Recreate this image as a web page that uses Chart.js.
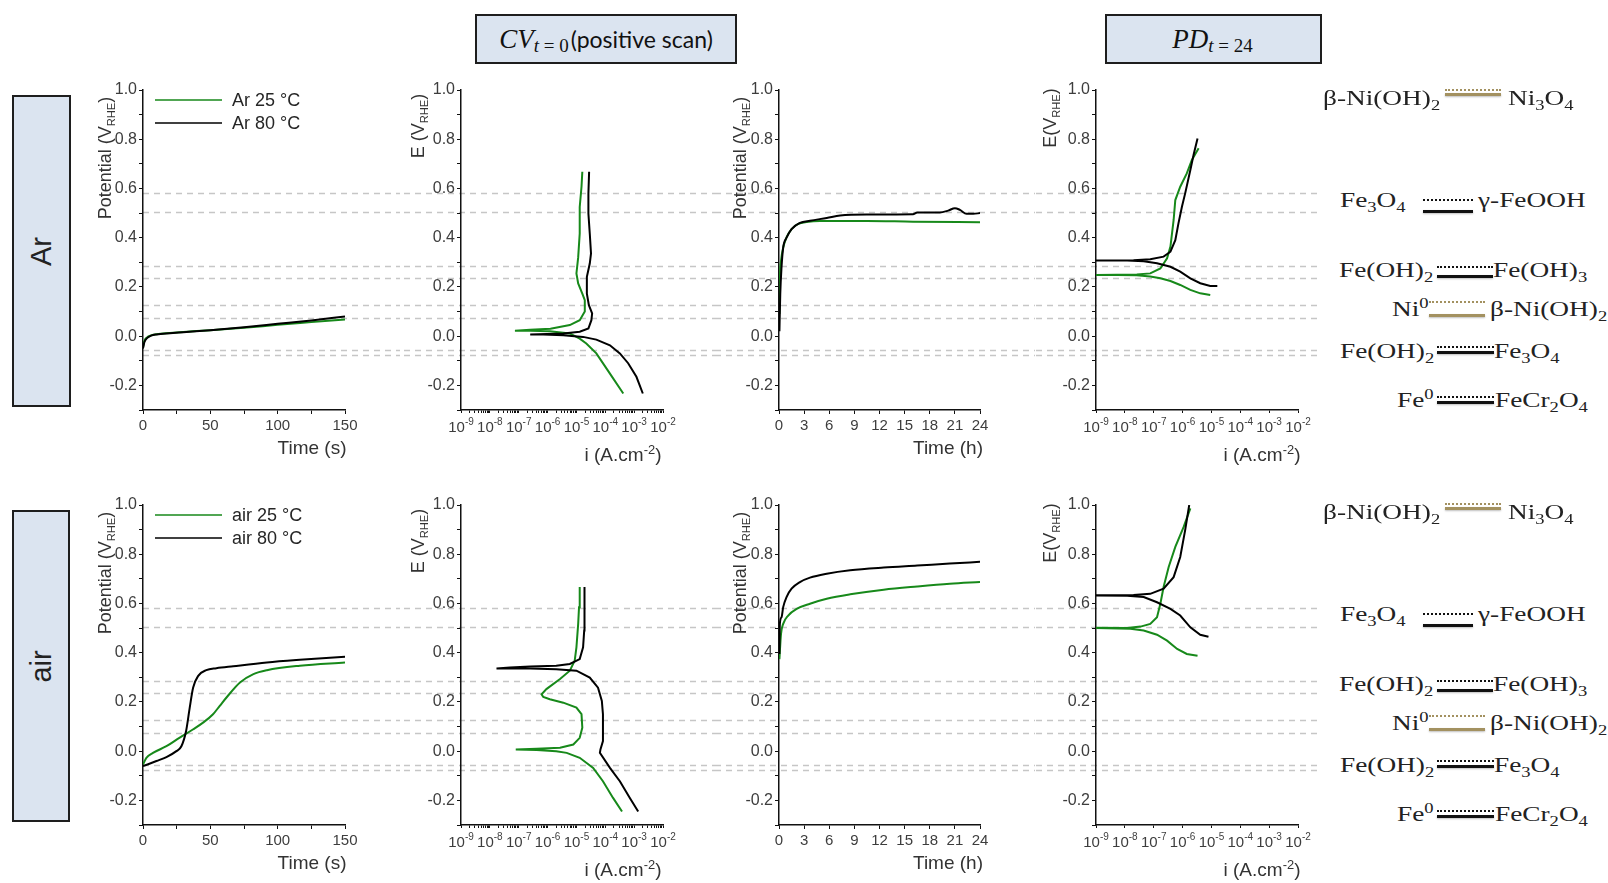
<!DOCTYPE html>
<html>
<head>
<meta charset="utf-8">
<script src="https://cdn.jsdelivr.net/npm/chart.js@4.4.1/dist/chart.umd.min.js"></script>
<style>
body{margin:0;background:#fff;}
#fig{position:relative;width:1608px;height:883px;overflow:hidden;font-family:"Liberation Sans",Arial,sans-serif;}
canvas{position:absolute;}
.box{position:absolute;background:#dbe4f0;border:2px solid #1e1e1e;box-sizing:border-box;}
.side{display:flex;align-items:center;justify-content:center;}
.side span{display:block;transform:rotate(-90deg);font-size:29px;color:#222;}
.hdr{display:flex;align-items:center;justify-content:center;color:#111;}
.hdr .m{font-family:"Liberation Serif",serif;font-style:italic;font-size:27px;}
.hdr .s{font-family:"Liberation Serif",serif;font-size:19px;position:relative;top:7px;margin-right:2px;}
.hdr .t{font-family:Lato,"Open Sans",sans-serif;font-size:23px;}
.ytitle{position:absolute;transform:translate(-50%,-50%) rotate(-90deg);white-space:nowrap;font-size:18px;color:#333;}
.xtitle{position:absolute;transform:translate(-50%,-50%);white-space:nowrap;font-size:19px;color:#333;}
.ytitle sub{font-size:0.62em;}
.rx{position:absolute;font-family:"Liberation Serif","Times New Roman",serif;font-size:21px;color:#222;line-height:21px;white-space:nowrap;transform:scaleX(1.3);transform-origin:0 0;}
sub,sup{font-size:0.68em;line-height:0;}
.dot{position:absolute;border-top:2px dotted;height:0;}
.sol{position:absolute;height:3px;box-shadow:0 1px 2px rgba(0,0,0,0.25);}
</style>
</head>
<body>
<div id="fig">
  <div class="box side" style="left:12px;top:95px;width:59px;height:312px"><span>Ar</span></div>
  <div class="box side" style="left:12px;top:510px;width:58px;height:312px"><span>air</span></div>
  <div class="box hdr" style="left:475px;top:14px;width:262px;height:50px">
    <span class="m">CV</span><span class="s"><i>t</i> = 0</span><span class="t">(positive scan)</span>
  </div>
  <div class="box hdr" style="left:1105px;top:14px;width:217px;height:50px">
    <span class="m">PD</span><span class="s"><i>t</i> = 24</span>
  </div>
</div>
<script>
// redox potentials of the couples (V vs RHE), drawn as grey dashed guides
const guideLevels = [0.58, 0.505, 0.287, 0.235, 0.128, 0.074, -0.057, -0.077];
// tick labels
const yTickLabels = [-0.2, 0.0, 0.2, 0.4, 0.6, 0.8, 1.0];
const decadeExp = [-9, -8, -7, -6, -5, -4, -3, -2];

// OCP during first 150 s  [t (s), E (V)]
const ocpAr25 = [[0,-0.045],[1,-0.02],[3,-0.005],[6,0.003],[10,0.008],[20,0.013],[30,0.017],[50,0.024],[75,0.034],[100,0.046],[125,0.057],[150,0.068]];
const ocpAr80 = [[0,-0.05],[1,-0.025],[3,-0.008],[6,0.002],[10,0.007],[20,0.012],[30,0.016],[50,0.024],[75,0.036],[100,0.05],[125,0.064],[150,0.08]];
const ocpAir25 = [[0,-0.054],[2.5,-0.027],[7.4,-0.007],[17.4,0.02],[27,0.054],[37,0.088],[44.6,0.116],[52,0.15],[57,0.184],[62,0.218],[72,0.279],[82,0.313],[92,0.329],[116.5,0.347],[150,0.36]];
const ocpAir80 = [[0,-0.061],[10,-0.04],[17.4,-0.024],[24.8,0.0],[28.5,0.02],[32,0.082],[34.7,0.177],[37.2,0.258],[41,0.306],[47,0.329],[54.5,0.337],[67,0.345],[92,0.36],[116.5,0.371],[150,0.384]];

// CV positive scan  [i (A/cm2), E (V)]
const cvAr25 = [[4.2e-4,-0.233],[1.45e-4,-0.152],[4.9e-5,-0.07],[2.2e-5,-0.03],[1.3e-5,-0.01],[5.9e-6,0.011],[1.2e-6,0.02],[2.5e-7,0.022],[7.4e-8,0.022],
  [2.5e-7,0.026],[1.26e-6,0.03],[5.9e-6,0.045],[1.3e-5,0.065],[1.95e-5,0.1],[1.95e-5,0.146],[1.6e-5,0.173],[1.15e-5,0.214],[1.0e-5,0.255],[1.15e-5,0.32],[1.3e-5,0.417],[1.3e-5,0.525],[1.5e-5,0.607],[1.6e-5,0.668]];
const cvAr80 = [[2.0e-3,-0.233],[1.2e-3,-0.165],[6.2e-4,-0.11],[3.2e-4,-0.07],[1.45e-4,-0.037],[4.9e-5,-0.014],[1.7e-5,-0.003],[3.5e-6,0.004],[7.1e-7,0.007],[2.5e-7,0.007],
  [3.5e-6,0.011],[1.3e-5,0.018],[2.6e-5,0.031],[3.3e-5,0.065],[3.5e-5,0.092],[2.7e-5,0.126],[2.3e-5,0.173],[2.3e-5,0.241],[2.9e-5,0.295],[3.2e-5,0.336],[2.9e-5,0.417],[2.6e-5,0.498],[2.6e-5,0.58],[2.75e-5,0.668]];
const cvAir25 = [[3.8e-4,-0.245],[1.86e-4,-0.19],[8.3e-5,-0.122],[3.8e-5,-0.068],[1.3e-5,-0.027],[4.6e-6,-0.007],[2.0e-6,0.0],[4.2e-7,0.005],[7.9e-8,0.007],
  [4.2e-7,0.01],[2.7e-6,0.014],[7.8e-6,0.027],[1.3e-5,0.054],[1.6e-5,0.095],[1.5e-5,0.15],[1.0e-5,0.177],[3.5e-6,0.197],[1.2e-6,0.211],[7.1e-7,0.22],[6.2e-7,0.231],[9.1e-7,0.252],[2.7e-6,0.293],[5.9e-6,0.327],[8.7e-6,0.367],[1.0e-5,0.422],[1.15e-5,0.517],[1.23e-5,0.585],[1.3e-5,0.667]];
const cvAir80 = [[1.38e-3,-0.245],[7.1e-4,-0.19],[3.2e-4,-0.122],[1.45e-4,-0.068],[6.5e-5,-0.007],[6.8e-5,0.007],[8.3e-5,0.041],[8.3e-5,0.15],[7.6e-5,0.204],[5.6e-5,0.258],[2.9e-5,0.299],[1.0e-5,0.327],[2.0e-6,0.333],[2.5e-7,0.336],[1.7e-8,0.336],
  [5.0e-8,0.34],[2.5e-7,0.344],[2.0e-6,0.347],[5.9e-6,0.354],[1.3e-5,0.374],[1.7e-5,0.422],[1.86e-5,0.49],[1.86e-5,0.585],[1.95e-5,0.667]];

// chronopotentiometry over 24 h  [t (h), E (V)]
const cpAr25 = [[0.05,0.09],[0.12,0.25],[0.24,0.306],[0.5,0.36],[0.9,0.401],[1.5,0.435],[2.3,0.456],[3.3,0.464],[4.9,0.468],[10.5,0.468],[16,0.465],[24,0.463]];
const cpAr80 = [[0.05,0.02],[0.15,0.17],[0.3,0.279],[0.5,0.36],[0.9,0.4],[1.5,0.435],[2.5,0.46],[3.7,0.469],[5.7,0.48],[7.3,0.49],[10.5,0.494],[16,0.495],[16.5,0.502],[19.2,0.502],[20.2,0.51],[21,0.52],[21.6,0.513],[22.4,0.497],[23.2,0.497],[24,0.5]];
const cpAir25 = [[0.05,0.374],[0.24,0.476],[0.5,0.517],[1.1,0.551],[2.1,0.578],[3.7,0.599],[5.7,0.619],[8.5,0.637],[12.5,0.656],[16.5,0.669],[20.4,0.68],[24,0.687]];
const cpAir80 = [[0.05,0.395],[0.1,0.517],[0.3,0.544],[0.5,0.585],[0.9,0.626],[1.5,0.66],[2.5,0.687],[3.7,0.705],[5.7,0.721],[8.5,0.735],[12.5,0.746],[16.5,0.754],[20.4,0.762],[24,0.769]];

// potentiodynamic polarisation after 24 h  [i (A/cm2), E (V)]
const pdAr25 = [[9.1e-6,0.167],[4.1e-6,0.174],[1.86e-6,0.188],[8.3e-7,0.208],[3.8e-7,0.224],[1.7e-7,0.235],[7.6e-8,0.242],[2.6e-8,0.247],[5.4e-9,0.248],[8e-10,0.248],
  [5.4e-9,0.249],[2.6e-8,0.25],[7.6e-8,0.255],[1.7e-7,0.275],[2.9e-7,0.316],[3.8e-7,0.364],[4.9e-7,0.472],[5.6e-7,0.553],[8.3e-7,0.607],[1.4e-6,0.661],[2.1e-6,0.716],[3.6e-6,0.763]];
const pdAr80 = [[1.6e-5,0.204],[9.1e-6,0.204],[4.1e-6,0.215],[1.86e-6,0.235],[8.3e-7,0.262],[3.8e-7,0.282],[1.3e-7,0.296],[4.5e-8,0.304],[1.2e-8,0.307],[8e-10,0.307],
  [2.0e-8,0.308],[7.6e-8,0.312],[2.2e-7,0.323],[3.8e-7,0.343],[5.6e-7,0.39],[7.2e-7,0.458],[9.5e-7,0.526],[1.23e-6,0.58],[1.86e-6,0.675],[2.4e-6,0.736],[3.3e-6,0.803]];
const pdAir25 = [[3.3e-6,0.388],[1.4e-6,0.395],[6.5e-7,0.415],[2.9e-7,0.449],[1.3e-7,0.473],[4.5e-8,0.49],[1.55e-8,0.497],[8e-10,0.501],
  [1.2e-8,0.5],[3.5e-8,0.506],[7.6e-8,0.517],[1.3e-7,0.544],[1.7e-7,0.599],[2.2e-7,0.667],[3.3e-7,0.748],[5.6e-7,0.83],[1.1e-6,0.912],[1.86e-6,0.986]];
const pdAir80 = [[7.9e-6,0.465],[4.1e-6,0.473],[1.86e-6,0.503],[8.3e-7,0.551],[3.8e-7,0.578],[1.3e-7,0.605],[4.5e-8,0.626],[1.2e-8,0.631],[8e-10,0.633],
  [2.0e-8,0.634],[7.6e-8,0.639],[2.2e-7,0.66],[4.9e-7,0.707],[8.3e-7,0.789],[1.23e-6,0.898],[1.7e-6,1.0]];

const GREEN = '#17891a', BLACK = '#000000';
const TICK_COLOR = '#3d3d3d';
const FONT = '"Liberation Sans", Arial, sans-serif';
const fig = document.getElementById('fig');

// page geometry of the four columns and two rows
const cols = [
  {left: 75,   w: 325, L: 143,  R: 345,  dashFrom: 143,  dashTo: 400},
  {left: 400,  w: 315, L: 461,  R: 663,  dashFrom: 400,  dashTo: 715},
  {left: 715,  w: 320, L: 779,  R: 980,  dashFrom: 715,  dashTo: 1035},
  {left: 1035, w: 295, L: 1096, R: 1298, dashFrom: 1035, dashTo: 1320}
];
const rowTop = [90, 505];

function logTicks(minor) {
  const out = [];
  decadeExp.forEach((e, k) => {
    out.push(Math.pow(10, e));
    if (minor && k < decadeExp.length - 1)
      for (let m = 2; m <= 9; m++) out.push(m * Math.pow(10, e));
  });
  return out.map(v => ({value: v}));
}

function xScale(kind) {
  const common = {
    grid: {drawOnChartArea: false, drawTicks: true, tickLength: 4, tickColor: '#111'},
    border: {display: true, color: '#111', width: 1.5},
    ticks: {color: TICK_COLOR, font: {family: FONT, size: 15}, padding: 3, maxRotation: 0, autoSkip: false}
  };
  if (kind === 'secs') return Object.assign(common, {type: 'linear', min: 0, max: 150,
    ticks: Object.assign(common.ticks, {stepSize: 25, callback: v => (v % 50 === 0 ? String(v) : '')})});
  if (kind === 'hours') return Object.assign(common, {type: 'linear', min: 0, max: 24,
    ticks: Object.assign(common.ticks, {stepSize: 3})});
  const minor = kind === 'logMinor';
  return Object.assign(common, {type: 'logarithmic', min: 1e-9, max: 1e-2,
    grid: Object.assign(common.grid, {tickLength: 3}),
    afterBuildTicks: s => { s.ticks = logTicks(minor); },
    ticks: Object.assign(common.ticks, {callback: () => ''})});
}

// grey dashed guide lines, continued through the gaps between panels
function guidePlugin(col) {
  return {
    id: 'guides',
    beforeDraw(chart) {
      const ctx = chart.ctx, ys = chart.scales.y;
      const x0 = col.dashFrom - col.left, x1 = col.dashTo - col.left;
      ctx.save();
      ctx.setLineDash([6, 5]);
      ctx.lineDashOffset = -col.dashFrom;
      ctx.strokeStyle = '#c6c6c6';
      ctx.lineWidth = 1.3;
      guideLevels.forEach(v => {
        const y = Math.round(ys.getPixelForValue(v)) + 0.5;
        ctx.beginPath(); ctx.moveTo(x0, y); ctx.lineTo(x1, y); ctx.stroke();
      });
      ctx.restore();
    }
  };
}

// 10^n labels with a raised exponent
const powerLabels = {
  id: 'powerLabels',
  afterDraw(chart) {
    const sx = chart.scales.x, ctx = chart.ctx, y0 = chart.chartArea.bottom;
    ctx.save();
    ctx.fillStyle = TICK_COLOR;
    ctx.textBaseline = 'alphabetic';
    decadeExp.forEach(e => {
      const px = sx.getPixelForValue(Math.pow(10, e));
      ctx.font = '15px ' + FONT; const w1 = ctx.measureText('10').width;
      ctx.font = '10px ' + FONT; const w2 = ctx.measureText(String(e)).width;
      const x = px - (w1 + w2) / 2;
      ctx.font = '15px ' + FONT; ctx.fillText('10', x, y0 + 22);
      ctx.font = '10px ' + FONT; ctx.fillText(String(e), x + w1, y0 + 15);
    });
    ctx.restore();
  }
};

// legend drawn inside the top-left corner of the plot
const cornerLegend = {
  id: 'cornerLegend',
  afterDraw(chart) {
    const ctx = chart.ctx, a = chart.chartArea;
    ctx.save();
    ctx.font = '18px ' + FONT;
    ctx.textBaseline = 'middle';
    chart.data.datasets.forEach((ds, k) => {
      const y = a.top + 10 + k * 23;
      ctx.strokeStyle = ds.borderColor; ctx.lineWidth = 1.5;
      ctx.beginPath(); ctx.moveTo(a.left + 12, y); ctx.lineTo(a.left + 79, y); ctx.stroke();
      ctx.fillStyle = '#262626';
      ctx.fillText(ds.label, a.left + 89, y + 1);
    });
    ctx.restore();
  }
};

function series(data, label, color, smooth) {
  return {
    label: label,
    data: data.map(p => ({x: p[0], y: p[1]})),
    borderColor: color, backgroundColor: color,
    borderWidth: 2, pointRadius: 0, showLine: true, fill: false,
    order: color === GREEN ? 2 : 1,
    tension: smooth ? 0.4 : 0,
    cubicInterpolationMode: smooth ? 'monotone' : 'default'
  };
}

function panel(ci, ri, kind, sets, withLegend) {
  const col = cols[ci], T = rowTop[ri], B = T + 320;
  const top = T - 20, h = 380;
  const cv = document.createElement('canvas');
  cv.width = col.w; cv.height = h;
  cv.style.left = col.left + 'px'; cv.style.top = top + 'px';
  cv.style.width = col.w + 'px'; cv.style.height = h + 'px';
  fig.appendChild(cv);
  const smooth = kind === 'secs' || kind === 'hours';
  const xs = xScale(kind);
  xs.afterFit = s => { s.height = top + h - B; };
  const plugins = [guidePlugin(col)];
  if (kind.startsWith('log')) plugins.push(powerLabels);
  if (withLegend) plugins.push(cornerLegend);
  new Chart(cv, {
    type: 'scatter',
    data: {datasets: sets.map(s => series(s[0], s[1], s[2], smooth))},
    options: {
      responsive: false, animation: false, devicePixelRatio: 1,
      layout: {padding: {left: 0, top: T - top, right: col.left + col.w - col.R, bottom: 0}},
      plugins: {legend: {display: false}, tooltip: {enabled: false}},
      scales: {
        x: xs,
        y: {
          type: 'linear', min: -0.3, max: 1.0,
          afterFit: s => { s.width = col.L - col.left; },
          grid: {drawOnChartArea: false, drawTicks: true, tickLength: 4, tickColor: '#111'},
          border: {display: true, color: '#111', width: 1.5},
          ticks: {
            stepSize: 0.1, autoSkip: false, color: TICK_COLOR, padding: 2,
            font: {family: FONT, size: 16},
            callback: v => {
              const k = Math.round(v * 10) / 10;
              return yTickLabels.includes(k) ? k.toFixed(1) : '';
            }
          }
        }
      }
    },
    plugins: plugins
  });
}

panel(0, 0, 'secs', [[ocpAr25, 'Ar 25 °C', GREEN], [ocpAr80, 'Ar 80 °C', BLACK]], true);
panel(1, 0, 'logMinor', [[cvAr25, 'Ar 25 °C', GREEN], [cvAr80, 'Ar 80 °C', BLACK]]);
panel(2, 0, 'hours', [[cpAr25, 'Ar 25 °C', GREEN], [cpAr80, 'Ar 80 °C', BLACK]]);
panel(3, 0, 'log', [[pdAr25, 'Ar 25 °C', GREEN], [pdAr80, 'Ar 80 °C', BLACK]]);
panel(0, 1, 'secs', [[ocpAir25, 'air 25 °C', GREEN], [ocpAir80, 'air 80 °C', BLACK]], true);
panel(1, 1, 'logMinor', [[cvAir25, 'air 25 °C', GREEN], [cvAir80, 'air 80 °C', BLACK]]);
panel(2, 1, 'hours', [[cpAir25, 'air 25 °C', GREEN], [cpAir80, 'air 80 °C', BLACK]]);
panel(3, 1, 'log', [[pdAir25, 'air 25 °C', GREEN], [pdAir80, 'air 80 °C', BLACK]]);

// axis titles
const yTitles = [
  {html: 'Potential (V<sub>RHE</sub>)', cx: 105, cy: 158},
  {html: 'E (V<sub>RHE</sub>)', cx: 418, cy: 126},
  {html: 'Potential (V<sub>RHE</sub>)', cx: 740, cy: 158},
  {html: 'E(V<sub>RHE</sub>)', cx: 1050, cy: 118}
];
const xTitles = [
  {html: 'Time (s)', cx: 312, cy: 448},
  {html: 'i (A.cm<sup>-2</sup>)', cx: 623, cy: 455},
  {html: 'Time (h)', cx: 948, cy: 448},
  {html: 'i (A.cm<sup>-2</sup>)', cx: 1262, cy: 455}
];
[0, 415].forEach(dy => {
  yTitles.forEach(t => addText('ytitle', t.html, t.cx, t.cy + dy));
  xTitles.forEach(t => addText('xtitle', t.html, t.cx, t.cy + dy));
});
function addText(cls, html, x, y) {
  const d = document.createElement('div');
  d.className = cls; d.innerHTML = html;
  d.style.left = x + 'px'; d.style.top = y + 'px';
  fig.appendChild(d);
}

// redox couples key on the right
const OLIVE = '#a39160', DARK = '#111';
const couples = [
  {l: 'β-Ni(OH)<sub>2</sub>', r: 'Ni<sub>3</sub>O<sub>4</sub>', lx: 1323, sx: 1445, sw: 56, rx: 1508, base: 105, dot: 89, sol: 93, c: OLIVE},
  {l: 'Fe<sub>3</sub>O<sub>4</sub>', r: 'γ-FeOOH', lx: 1340, sx: 1423, sw: 50, rx: 1478, base: 207, dot: 199, sol: 210, c: DARK},
  {l: 'Fe(OH)<sub>2</sub>', r: 'Fe(OH)<sub>3</sub>', lx: 1339, sx: 1437, sw: 56, rx: 1493, base: 277, dot: 266, sol: 275, c: DARK},
  {l: 'Ni<sup>0</sup>', r: 'β-Ni(OH)<sub>2</sub>', lx: 1392, sx: 1429, sw: 56, rx: 1490, base: 316, dot: 301, sol: 314, c: OLIVE},
  {l: 'Fe(OH)<sub>2</sub>', r: 'Fe<sub>3</sub>O<sub>4</sub>', lx: 1340, sx: 1437, sw: 57, rx: 1494, base: 358, dot: 346, sol: 351, c: DARK},
  {l: 'Fe<sup>0</sup>', r: 'FeCr<sub>2</sub>O<sub>4</sub>', lx: 1397, sx: 1437, sw: 57, rx: 1495, base: 407, dot: 396, sol: 401, c: DARK}
];
[0, 414].forEach(dy => {
  couples.forEach(c => {
    [[c.l, c.lx], [c.r, c.rx]].forEach(([html, x]) => {
      const d = document.createElement('div');
      d.className = 'rx'; d.innerHTML = html;
      d.style.left = x + 'px'; d.style.top = (c.base + dy - 17) + 'px';
      fig.appendChild(d);
    });
    const dot = document.createElement('div');
    dot.className = 'dot';
    dot.style.cssText += `left:${c.sx}px;top:${c.dot + dy}px;width:${c.sw}px;border-top-color:${c.c};`;
    fig.appendChild(dot);
    const sol = document.createElement('div');
    sol.className = 'sol';
    sol.style.cssText += `left:${c.sx}px;top:${c.sol + dy}px;width:${c.sw}px;background:${c.c};`;
    fig.appendChild(sol);
  });
});
</script>
</body>
</html>
